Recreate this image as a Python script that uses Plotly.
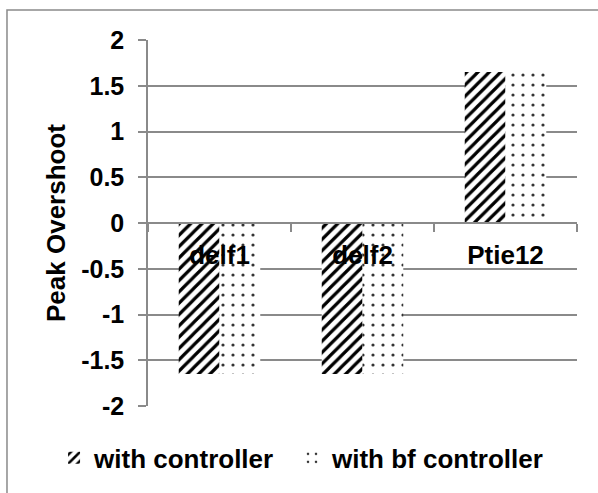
import plotly.graph_objects as go

# Peak overshoot per signal, with and without the bf controller
categories = ["delf1", "delf2", "Ptie12"]
with_controller = [-1.65, -1.65, 1.65]
with_bf_controller = [-1.65, -1.65, 1.65]

y_tick_values = [2, 1.5, 1, 0.5, 0, -0.5, -1, -1.5, -2]
y_tick_labels = ["2", "1.5", "1", "0.5", "0", "-0.5", "-1", "-1.5", "-2"]

FONT = "Liberation Sans, Arial, sans-serif"
GRID = "#8a8a8a"
LEGEND_FONT = dict(family=FONT, size=26, color="black", weight="bold")

fig = go.Figure()
fig.add_trace(go.Bar(
    name="with controller",
    x=categories,
    y=with_controller,
    legend="legend",
    marker=dict(
        color="white",
        line=dict(width=0),
        pattern=dict(shape="/", size=8, solidity=0.4, fgopacity=1,
                     fgcolor="black", bgcolor="white", fillmode="overlay"),
    ),
))
fig.add_trace(go.Bar(
    name="with bf controller",
    x=categories,
    y=with_bf_controller,
    legend="legend2",
    marker=dict(
        color="white",
        line=dict(width=0),
        pattern=dict(shape=".", size=10, solidity=0.08, fgopacity=1,
                     fgcolor="#333333", bgcolor="white", fillmode="overlay"),
    ),
))

fig.update_layout(
    width=598,
    height=493,
    margin=dict(l=148, r=21, t=40, b=87),
    paper_bgcolor="white",
    plot_bgcolor="white",
    barmode="group",
    bargap=0.43,
    bargroupgap=0,
    font=dict(family=FONT, size=25, color="black", weight="bold"),
    showlegend=True,
    legend=dict(
        orientation="h",
        x=-0.219, xanchor="left",
        y=-0.142, yanchor="middle",
        font=LEGEND_FONT,
        bgcolor="rgba(0,0,0,0)",
        itemclick=False,
    ),
    legend2=dict(
        orientation="h",
        x=0.3357, xanchor="left",
        y=-0.142, yanchor="middle",
        font=LEGEND_FONT,
        bgcolor="rgba(0,0,0,0)",
        itemclick=False,
    ),
    xaxis=dict(
        type="category",
        anchor="free",
        position=0.5,
        showline=True,
        linecolor=GRID,
        linewidth=1.5,
        ticks="outside",
        tickson="boundaries",
        ticklen=8,
        tickcolor=GRID,
        tickwidth=1.5,
        showgrid=False,
        zeroline=False,
        ticklabelstandoff=9,
        tickfont=dict(family=FONT, size=26, color="black", weight="bold"),
    ),
    yaxis=dict(
        range=[-2.0001, 2.0001],
        tickvals=y_tick_values,
        ticktext=y_tick_labels,
        showline=True,
        linecolor=GRID,
        linewidth=1.5,
        ticks="outside",
        ticklen=8,
        tickcolor=GRID,
        tickwidth=1.5,
        showgrid=True,
        gridcolor=GRID,
        gridwidth=1.5,
        zeroline=False,
        ticklabelstandoff=9,
        tickfont=dict(family=FONT, size=25, color="black", weight="bold"),
    ),
    annotations=[
        dict(
            text="Peak Overshoot",
            xref="paper", yref="paper",
            x=-0.2145, y=0.5,
            xanchor="center", yanchor="middle",
            textangle=-90,
            showarrow=False,
            font=dict(family=FONT, size=26, color="black", weight="bold"),
        )
    ],
    shapes=[
        # outer chart frame
        dict(
            type="rect",
            xref="paper", yref="paper",
            x0=-0.3287, x1=1.06, y0=-0.25, y1=1.082,
            line=dict(color=GRID, width=1.5),
            fillcolor="rgba(0,0,0,0)",
            layer="below",
        )
    ],
)

fig.write_html("out.html")
